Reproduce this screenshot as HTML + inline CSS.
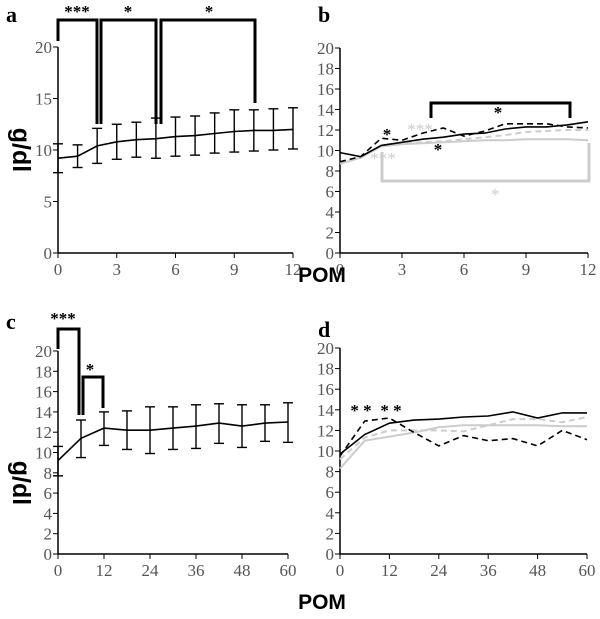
<!DOCTYPE html>
<html><head><meta charset="utf-8"><style>
body{margin:0;background:#fff}
svg text{font-family:"Liberation Serif",serif}
</style></head><body>
<svg id="fig" width="600" height="614" viewBox="0 0 600 614" xmlns="http://www.w3.org/2000/svg"></svg>
<script>
const xA=[0,1,2,3,4,5,6,7,8,9,10,11,12];
const meanA=[9.2,9.4,10.4,10.8,11.0,11.1,11.3,11.4,11.6,11.8,11.9,11.9,12.0];
const loA=[7.8,8.3,8.7,9.1,9.3,9.2,9.4,9.5,9.7,9.8,9.9,10.0,10.1];
const hiA=[10.6,10.5,12.1,12.5,12.7,13.1,13.2,13.3,13.6,13.9,13.9,14.0,14.1];
const xB=[0,1,2,3,4,5,6,7,8,9,10,11,12];
const bBlackSolid=[9.8,9.4,10.5,10.8,11.1,11.3,11.6,11.7,12.1,12.3,12.3,12.5,12.8];
const bBlackDash=[8.9,9.4,11.2,11.0,11.7,12.2,11.4,11.9,12.6,12.6,12.6,12.3,12.2];
const bGraySolid=[8.7,9.3,10.4,10.6,10.7,10.8,10.9,11.0,11.0,11.1,11.1,11.1,11.0];
const bGrayDash=[8.8,9.3,10.5,10.7,10.8,10.9,11.1,11.3,11.5,11.8,11.9,12.0,12.0];
const xC=[0,6,12,18,24,30,36,42,48,54,60];
const meanC=[9.2,11.4,12.4,12.2,12.2,12.4,12.6,12.9,12.6,12.9,13.0];
const loC=[7.7,9.5,10.7,10.3,9.9,10.3,10.4,10.9,10.5,11.1,11.0];
const hiC=[10.6,13.2,14.0,14.1,14.5,14.5,14.7,14.8,14.7,14.7,14.9];
const dBlackSolid=[9.7,11.6,12.7,13.0,13.1,13.3,13.4,13.8,13.2,13.7,13.7];
const dBlackDash=[9.5,12.9,13.2,11.8,10.5,11.5,11.0,11.2,10.5,12.0,11.1];
const dGraySolid=[8.3,11.0,11.4,11.8,12.3,12.5,12.5,12.5,12.5,12.4,12.4];
const dGrayDash=[9.2,11.3,12.0,12.0,12.0,11.9,12.5,13.1,13.1,12.8,13.3];
const ticksA=[0,5,10,15,20], ticksB=[0,2,4,6,8,10,12,14,16,18,20];
const xticks12=[0,3,6,9,12], xticks60=[0,12,24,36,48,60];

const svg=document.getElementById('fig');
const NS='http://www.w3.org/2000/svg';
function mk(tag,attrs,parent,name){const e=document.createElementNS(NS,tag);for(const k in attrs)e.setAttribute(k,attrs[k]);


(parent||svg).appendChild(e);return e;}
function txt(x,y,s,attrs,name){const t=mk('text',Object.assign({x:x,y:y},attrs||{}),null,name);t.textContent=s;return t;}

function panel(p){
  const sx=v=>p.x0+(v-p.xmin)/(p.xmax-p.xmin)*(p.x1-p.x0);
  const sy=v=>p.y0-(v/20)*(p.y0-p.y20);
  p.sx=sx;p.sy=sy;
  const g=mk('g',{},null,p.name);
  mk('line',{x1:p.x0,y1:p.y0,x2:p.x0,y2:p.y20,stroke:'#000','stroke-width':1.5},g,'y-axis');
  mk('line',{x1:p.x0,y1:p.y0,x2:p.x1,y2:p.y0,stroke:'#000','stroke-width':1.5},g,'x-axis');
  p.yt.forEach(v=>{mk('line',{x1:p.x0-5,y1:sy(v),x2:p.x0,y2:sy(v),stroke:'#000'},g,'y-tick');
    txt(p.x0-6,sy(v)+6,String(v),{'text-anchor':'end','font-size':17,fill:'#555'},'y-tick-label');});
  p.xt.forEach(v=>{mk('line',{x1:sx(v),y1:p.y0,x2:sx(v),y2:p.y0+5,stroke:'#000'},g,'x-tick');
    txt(sx(v),p.y0+22,String(v),{'text-anchor':'middle','font-size':17,fill:'#555'},'x-tick-label');});
  return g;
}
function line(p,xs,ys,color,dash,name,w){
  const d=xs.map((x,i)=>(i?'L':'M')+p.sx(x).toFixed(1)+','+p.sy(ys[i]).toFixed(1)).join(' ');
  mk('path',{d:d,fill:'none',stroke:color,'stroke-width':w||1.6,'stroke-dasharray':dash||'none'},null,name);
}
function errbars(p,xs,lo,hi,name){
  xs.forEach((x,i)=>{const X=p.sx(x);
    mk('line',{x1:X,y1:p.sy(lo[i]),x2:X,y2:p.sy(hi[i]),stroke:'#000','stroke-width':1.4},null,name);
    mk('line',{x1:X-5,y1:p.sy(lo[i]),x2:X+5,y2:p.sy(lo[i]),stroke:'#000','stroke-width':1.4},null,name+'-cap');
    mk('line',{x1:X-5,y1:p.sy(hi[i]),x2:X+5,y2:p.sy(hi[i]),stroke:'#000','stroke-width':1.4},null,name+'-cap');});
}
function bracket(pts,color,name,w){mk('polyline',{points:pts,fill:'none',stroke:color,'stroke-width':w||3},null,name);}

// Panel a
const pa={name:'panel-a',x0:58,x1:293,xmin:0,xmax:12,y0:253,y20:47,yt:ticksA,xt:xticks12};
panel(pa);
errbars(pa,xA,loA,hiA,'error-bar-a');
line(pa,xA,meanA,'#000',null,'mean-line-a');
bracket('58,41 58,20 97,20 97,124','#000','bracket-a-1');
bracket('101,124 101,20 156,20 156,124','#000','bracket-a-2');
bracket('161,124 161,20 255,20 255,103','#000','bracket-a-3');
txt(77,17,'***',{'font-size':17,'text-anchor':'middle','font-weight':'bold'},'sig-a-1');
txt(128,17,'*',{'font-size':17,'text-anchor':'middle','font-weight':'bold'},'sig-a-2');
txt(209,17,'*',{'font-size':17,'text-anchor':'middle','font-weight':'bold'},'sig-a-3');

// Panel b
const pb={name:'panel-b',x0:340,x1:588,xmin:0,xmax:12,y0:253,y20:48,yt:ticksB,xt:xticks12};
panel(pb);
line(pb,xB,bGraySolid,'#ccc',null,'gray-solid-b',2);
line(pb,xB,bGrayDash,'#ccc','6,4','gray-dashed-b',2);
line(pb,xB,bBlackSolid,'#000',null,'black-solid-b');
line(pb,xB,bBlackDash,'#000','6,4','black-dashed-b');
bracket('431,118 431,103 570,103 570,118','#000','bracket-b-black');
bracket('382,152 382,181 589,181 589,143','#ccc','bracket-b-gray');
txt(498,118,'*',{'font-size':17,'text-anchor':'middle','font-weight':'bold'},'sig-b-1');
txt(387,140,'*',{'font-size':17,'text-anchor':'middle','font-weight':'bold'},'sig-b-2');
txt(438,155,'*',{'font-size':17,'text-anchor':'middle','font-weight':'bold'},'sig-b-3');
txt(420,135,'***',{'font-size':17,'text-anchor':'middle','fill':'#ccc'},'sig-b-gray-1');
txt(383,164,'***',{'font-size':17,'text-anchor':'middle','fill':'#ccc'},'sig-b-gray-2');
txt(495,200,'*',{'font-size':17,'text-anchor':'middle','fill':'#ccc'},'sig-b-gray-3');

// Panel c
const pc={name:'panel-c',x0:58,x1:288,xmin:0,xmax:60,y0:554,y20:351,yt:ticksB,xt:xticks60};
panel(pc);
errbars(pc,xC,loC,hiC,'error-bar-c');
line(pc,xC,meanC,'#000',null,'mean-line-c');
bracket('58,349 58,329 79,329 79,415','#000','bracket-c-1');
bracket('83,415 83,377 103,377 103,408','#000','bracket-c-2');
txt(63,324,'***',{'font-size':17,'text-anchor':'middle','font-weight':'bold'},'sig-c-1');
txt(90,375,'*',{'font-size':17,'text-anchor':'middle','font-weight':'bold'},'sig-c-2');

// Panel d
const pd={name:'panel-d',x0:340,x1:587,xmin:0,xmax:60,y0:554,y20:348,yt:ticksB,xt:xticks60};
panel(pd);
line(pd,xC,dGraySolid,'#ccc',null,'gray-solid-d',2);
line(pd,xC,dGrayDash,'#ccc','6,4','gray-dashed-d',2);
line(pd,xC,dBlackSolid,'#000',null,'black-solid-d');
line(pd,xC,dBlackDash,'#000','6,4','black-dashed-d');
txt(361,416,'* *',{'font-size':17,'text-anchor':'middle','font-weight':'bold'},'sig-d-1');
txt(391,416,'* *',{'font-size':17,'text-anchor':'middle','font-weight':'bold'},'sig-d-2');

// labels
[['a',6,22],['b',318,22],['c',6,329],['d',318,337]].forEach(l=>txt(l[1],l[2],l[0],{'font-size':22,'font-weight':'bold'},'panel-label-'+l[0]));
[[322,282],[322,609]].forEach((p,i)=>{const t=txt(p[0],p[1],'POM',{'font-size':21,'font-weight':'bold','text-anchor':'middle'},'x-axis-title');t.style.fontFamily='"Liberation Sans",sans-serif';});
[[150],[483]].forEach(p=>{const t=txt(0,0,'g/dl',{'font-size':25,'font-weight':'bold','text-anchor':'middle',transform:'translate(13,'+p[0]+') rotate(90)'},'y-axis-title');t.style.fontFamily='"Liberation Sans",sans-serif';});
</script>
</body></html>
